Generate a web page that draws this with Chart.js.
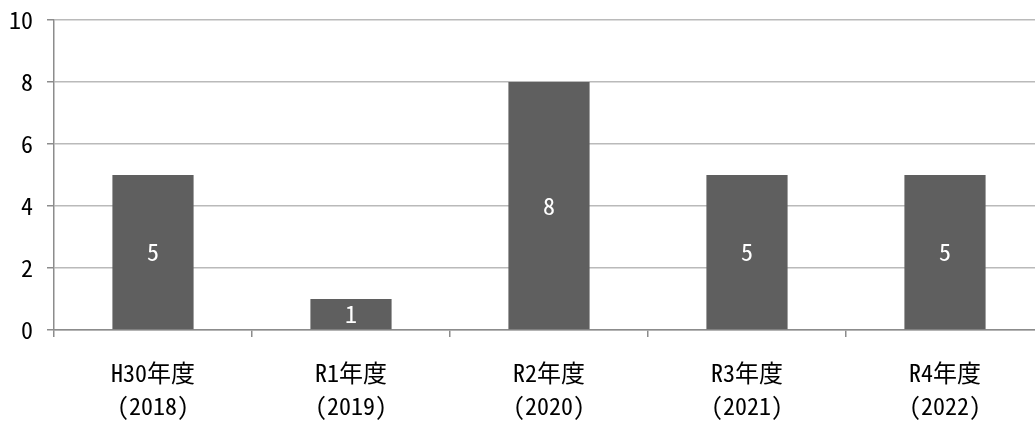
<!DOCTYPE html>
<html>
<head>
<meta charset="utf-8">
<script src="https://cdn.jsdelivr.net/npm/chart.js@4/dist/chart.umd.min.js"></script>
<style>
  html, body { margin: 0; padding: 0; background: #ffffff; overflow: hidden; }
  #wrap { width: 1044px; height: 421px; }
</style>
</head>
<body>
<div id="wrap"><canvas id="c" width="1044" height="421"></canvas></div>
<script>
// Fiscal years (Japanese era + western year)
const categories = [
  ['H30年度', '(2018)'],
  ['R1年度', '(2019)'],
  ['R2年度', '(2020)'],
  ['R3年度', '(2021)'],
  ['R4年度', '(2022)']
];
const counts = [5, 1, 8, 5, 5];
const yTicks = [0, 2, 4, 6, 8, 10];

const FONT = '"Noto Sans Mono CJK JP", "Noto Sans CJK JP", sans-serif';

// Writes each bar's value in white at the middle of the bar
const barValueLabels = {
  id: 'barValueLabels',
  afterDatasetsDraw(chart) {
    const ctx = chart.ctx;
    const meta = chart.getDatasetMeta(0);
    ctx.save();
    ctx.fillStyle = '#ffffff';
    ctx.font = '24px ' + FONT;
    ctx.textAlign = 'center';
    ctx.textBaseline = 'middle';
    meta.data.forEach((bar, i) => {
      const v = chart.data.datasets[0].data[i];
      ctx.fillText(String(v), bar.x, (bar.y + bar.base) / 2);
    });
    ctx.restore();
  }
};

new Chart(document.getElementById('c'), {
  type: 'bar',
  data: {
    labels: categories,
    datasets: [{
      data: counts,
      backgroundColor: '#5f5f5f',
      borderWidth: 0,
      barPercentage: 0.41,
      categoryPercentage: 1.0
    }]
  },
  options: {
    responsive: false,
    animation: false,
    devicePixelRatio: 1,
    layout: { padding: { top: 20, right: 0, bottom: 0, left: 0 } },
    plugins: {
      legend: { display: false },
      tooltip: { enabled: false }
    },
    scales: {
      x: {
        offset: true,
        grid: {
          offset: true,
          drawOnChartArea: false,
          drawTicks: true,
          tickLength: 7,
          color: '#8c8c8c',
          lineWidth: 1.5
        },
        border: { display: true, color: '#8c8c8c', width: 1.5 },
        ticks: {
          color: '#000000',
          font: { family: FONT, size: 24, lineHeight: 1.35 },
          padding: 20,
          maxRotation: 0,
          autoSkip: false
        },
        afterFit(scale) {
          scale.height = 91;
          scale.paddingLeft = 0;
          scale.paddingRight = 0;
        }
      },
      y: {
        min: 0,
        max: 10,
        afterBuildTicks(scale) { scale.ticks = yTicks.map(v => ({ value: v })); },
        grid: {
          color: '#bababa',
          lineWidth: 1.5,
          drawTicks: true,
          tickLength: 7,
          tickColor: '#8c8c8c'
        },
        border: { display: true, color: '#8c8c8c', width: 1.5 },
        ticks: {
          color: '#000000',
          font: { family: FONT, size: 24 },
          padding: 14
        },
        afterFit(scale) {
          scale.width = 54;
          scale.paddingTop = 0;
          scale.paddingBottom = 0;
        }
      }
    }
  },
  plugins: [barValueLabels]
});
</script>
</body>
</html>
